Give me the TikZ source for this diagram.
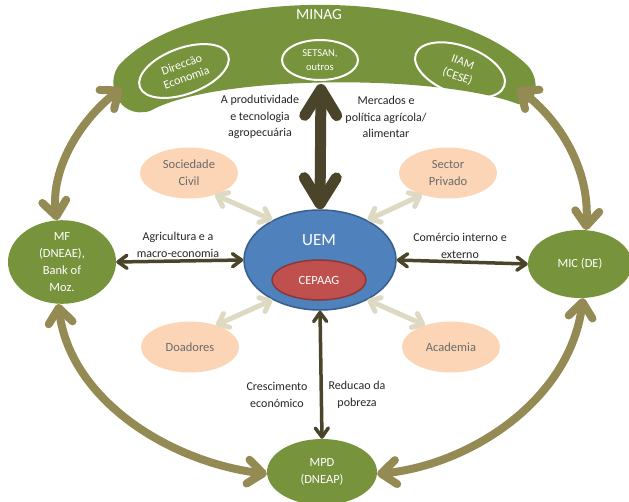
\documentclass[tikz,border=0pt]{standalone}
\usepackage{fontspec}
\setmainfont{Carlito}
\usetikzlibrary{arrows.meta,shapes.geometric}
\definecolor{grn}{HTML}{77933C}
\definecolor{olv}{HTML}{948A54}
\definecolor{drk}{HTML}{4A452A}
\definecolor{lgt}{HTML}{DDD9C3}
\definecolor{pch}{HTML}{FBD5B5}
\definecolor{blu}{HTML}{4F81BD}
\definecolor{blud}{HTML}{385D8A}
\definecolor{rd}{HTML}{C0504D}
\definecolor{rdd}{HTML}{8C3836}
\definecolor{txt}{HTML}{262626}
\definecolor{ptxt}{HTML}{6B6B6B}
\begin{document}
\begin{tikzpicture}[x=1pt,y=-1pt,
  ell/.style={ellipse,inner sep=0pt,align=center},
  gnode/.style={ell,fill=grn,text=white,font=\fontsize{12.5}{17}\selectfont},
  pnode/.style={ell,fill=pch,text=ptxt,minimum width=98pt,minimum height=51pt,font=\fontsize{12.5}{17}\selectfont},
  inell/.style={ell,draw=white,line width=2pt,text=white},
  lbl/.style={align=center,text=txt,font=\fontsize{12}{16.5}\selectfont},
  outarr/.style={draw=olv,line width=8pt,{Straight Barb[length=15pt,width=24pt,round]}-{Straight Barb[length=15pt,width=24pt,round]}},
  bigarr/.style={draw=drk,line width=11pt,{Straight Barb[length=26pt,width=32pt,round]}-{Straight Barb[length=26pt,width=32pt,round]}},
  darr/.style={draw=drk,line width=3.5pt,{Straight Barb[length=9pt,width=13pt,round]}-{Straight Barb[length=9pt,width=13pt,round]}},
  larr/.style={draw=lgt,line width=5pt,{Straight Barb[length=9pt,width=15pt,round]}-{Straight Barb[length=9pt,width=15pt,round]}}
]
\useasboundingbox (0,0) rectangle (629,501);
\fill[white] (0,0) rectangle (629,501);

% MINAG banner
\fill[grn] (120,64) .. controls (195,-15) and (445,-15) .. (527,65)
  .. controls (541,79) and (538,108) .. (518,104)
  .. controls (440,74) and (215,74) .. (150,111)
  .. controls (118,120) and (104,82) .. (120,64) -- cycle;
\node[text=white,font=\fontsize{15.5}{18}\selectfont] (minag) at (319,15) {MINAG};
\node[inell,rotate=20,minimum width=94pt,minimum height=46pt,font=\fontsize{12}{14}\selectfont] (dir) at (184,71) {Direccão\\Economia};
\node[inell,minimum width=76pt,minimum height=40pt,font=\fontsize{10.5}{14}\selectfont] (set) at (320,60) {SETSAN,\\outros};
\node[inell,rotate=-20,minimum width=94pt,minimum height=48pt,font=\fontsize{12}{15}\selectfont] (iiam) at (460,70) {IIAM\\(CESE)};
\coordinate (mb) at (321,84);
\coordinate (ml) at (122,88);
\coordinate (mr) at (517,88);

% central nodes
\node[ell,fill=blu,draw=blud,line width=1.5pt,minimum width=152pt,minimum height=100pt] (uem) at (320,260) {};
\node[text=white,font=\fontsize{17}{20}\selectfont] (uemt) at (319,240) {UEM};
\node[ell,fill=rd,draw=rdd,line width=1.5pt,minimum width=94pt,minimum height=40pt,text=white,font=\fontsize{12.5}{15}\selectfont] (cep) at (319,280) {CEPAAG};

% green outer nodes
\node[gnode,minimum width=108pt,minimum height=72pt] (mf) at (62,262) {MF\\(DNEAE),\\Bank of\\Moz.};
\node[gnode,minimum width=104pt,minimum height=68pt] (mic) at (580,264) {MIC (DE)};
\node[gnode,minimum width=110pt,minimum height=66pt] (mpd) at (322,472) {MPD\\(DNEAP)};

% peach nodes
\node[pnode] (soc) at (189,173) {Sociedade\\Civil};
\node[pnode] (sec) at (448,173) {Sector\\Privado};
\node[pnode] (doa) at (190,347) {Doadores};
\node[pnode] (aca) at (451,347) {Academia};

% arrows
\draw[bigarr] (mb) -- (uem.north);
\draw[outarr] (ml) .. controls (80,120) and (50,170) .. (mf.97);
\draw[outarr] (mr) .. controls (560,120) and (590,170) .. (mic.80);
\draw[outarr] (mf.-95) .. controls (70,400) and (170,462) .. (mpd.182);
\draw[outarr] (mic.-85) .. controls (570,400) and (470,465) .. (mpd.-2);
\draw[darr] (mf.east) -- (uem.west);
\draw[darr] (uem.east) -- (mic.west);
\draw[darr] (uem.south) -- (mpd.north);
\draw[larr] (soc.-40) -- (uem.140);
\draw[larr] (sec.-140) -- (uem.40);
\draw[larr] (doa.40) -- (uem.-140);
\draw[larr] (aca.140) -- (uem.-40);

% labels
\node[lbl] (lprod) at (260,117) {A produtividade\\e tecnologia\\agropecuária};
\node[lbl] (lmerc) at (386,117) {Mercados e\\política agrícola/\\alimentar};
\node[lbl] (lagri) at (178,245) {Agricultura e a\\macro-economia};
\node[lbl] (lcom) at (460,246) {Comércio interno e\\externo};
\node[lbl] (lcres) at (277,395) {Crescimento\\económico};
\node[lbl] (lred) at (357,395) {Reducao da\\pobreza};
\end{tikzpicture}
\end{document}
